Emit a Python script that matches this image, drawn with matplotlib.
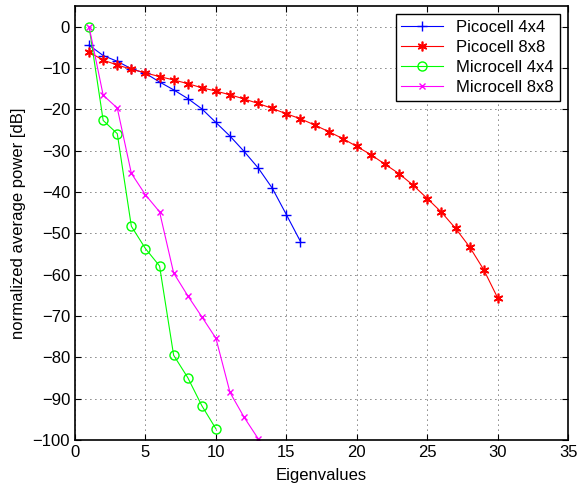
import matplotlib
matplotlib.use('Agg')
import matplotlib.pyplot as plt

plt.rcParams['font.family'] = ['Liberation Sans', 'DejaVu Sans']
plt.rcParams['font.size'] = 12

pico4_x = list(range(1, 17))
pico4_y = [-4.5, -7.0, -8.4, -10.2, -11.3, -13.4, -15.3, -17.4, -19.9, -23.2,
           -26.5, -30.2, -34.2, -39.1, -45.5, -52.0]

pico8_x = list(range(1, 31))
pico8_y = [-6.2, -8.1, -9.3, -10.3, -11.2, -12.1, -12.9, -13.8, -14.8, -15.6,
           -16.5, -17.5, -18.6, -19.8, -21.1, -22.3, -23.8, -25.4, -27.1, -29.0,
           -31.0, -33.3, -35.6, -38.4, -41.6, -44.9, -48.8, -53.3, -58.8, -65.7]

micro4_x = list(range(1, 11))
micro4_y = [0.0, -22.7, -25.9, -48.3, -53.7, -57.9, -79.5, -84.9, -91.7, -97.3]

micro8_x = list(range(1, 14))
micro8_y = [0.0, -16.6, -19.7, -35.5, -40.7, -44.8, -59.6, -65.1, -70.2, -75.4,
            -88.5, -94.5, -99.7]

fig = plt.figure(figsize=(5.79, 4.93), dpi=100)
ax = fig.add_axes([0.1295, 0.1075, 0.852, 0.8805])

lw = 0.8
ax.plot(pico4_x, pico4_y, color='#0000ff', marker='+', ms=7, mew=1, lw=lw,
        label='Picocell 4x4')
ax.plot(pico8_x, pico8_y, color='#ff0000', marker=(6, 2, 0), ms=7, mew=1.2, lw=lw,
        label='Picocell 8x8')
ax.plot(micro4_x, micro4_y, color='#00ff00', marker='o', ms=6.5, mfc='none',
        mew=1, lw=lw, label='Microcell 4x4')
ax.plot(micro8_x, micro8_y, color='#ff00ff', marker='x', ms=4.5, mew=1, lw=lw,
        label='Microcell 8x8')

ax.set_xlim(0, 35)
ax.set_ylim(-100, 5)
ax.set_xticks(range(0, 36, 5))
ax.set_yticks(range(-100, 1, 10))
ax.tick_params(direction='in', top=True, right=True, length=4, width=0.8)
ax.grid(True, linestyle=(0, (1, 5)), color='black', lw=0.6)
for s in ax.spines.values():
    s.set_linewidth(1.2)

ax.set_xlabel('Eigenvalues', labelpad=6)
ax.set_ylabel('normalized average power [dB]', labelpad=5)

leg = ax.legend(loc='upper right', fancybox=False, edgecolor='black',
                framealpha=1, borderaxespad=0.5, handlelength=2.5,
                labelspacing=0.3, borderpad=0.35)
leg.get_frame().set_linewidth(1.0)

plt.savefig('out.png', dpi=100)
